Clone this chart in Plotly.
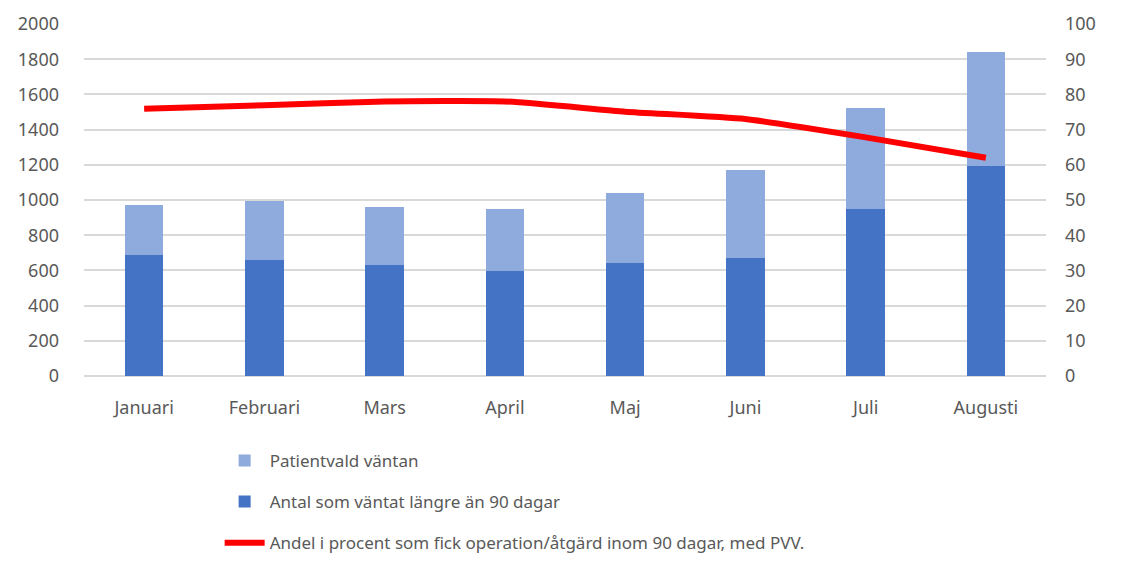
import plotly.graph_objects as go

months = ["Januari", "Februari", "Mars", "April", "Maj", "Juni", "Juli", "Augusti"]
antal_over_90 = [689, 659, 632, 598, 644, 672, 947, 1195]
patientvald = [284, 335, 326, 351, 394, 500, 574, 644]
andel_procent = [75.9, 76.9, 78.0, 78.0, 75.1, 73.0, 67.8, 62.0]

font_family = "Noto Sans"
txt_col = "#595959"

fig = go.Figure()
fig.add_trace(go.Bar(x=months, y=antal_over_90, name="Antal som väntat längre än 90 dagar",
                     marker=dict(color="#4472C4", line=dict(width=0)), legendrank=2,
                     legendgroup="b"))
fig.add_trace(go.Bar(x=months, y=patientvald, name="Patientvald väntan",
                     marker=dict(color="#8FAADC", line=dict(width=0)), legendrank=1,
                     legendgroup="a"))
fig.add_trace(go.Scatter(x=months, y=andel_procent, yaxis="y2", mode="lines",
                         name="Andel i procent som fick operation/åtgärd inom 90 dagar, med PVV.",
                         line=dict(color="#FF0000", width=6, shape="spline", smoothing=0.5),
                         legendrank=3, legendgroup="c"))

fig.update_layout(
    width=1124, height=553,
    margin=dict(l=76, r=86, t=16, b=185, autoexpand=False),
    paper_bgcolor="white", plot_bgcolor="white",
    barmode="stack", bargap=0.68,
    font=dict(family=font_family, size=18, color=txt_col),
    showlegend=True,
    legend=dict(x=0.141, y=-0.19, xanchor="left", yanchor="top",
                orientation="v", tracegroupgap=16,
                font=dict(family=font_family, size=17, color=txt_col),
                itemwidth=40, bgcolor="rgba(0,0,0,0)"),
    xaxis=dict(showgrid=False, showline=False, ticks="", ticklabelstandoff=19,
               automargin=False, tickfont=dict(size=18, color=txt_col)),
    yaxis=dict(range=[0, 2000], dtick=200, showgrid=True, gridcolor="#D9D9D9", gridwidth=1.5,
               zeroline=True, zerolinecolor="#D9D9D9", zerolinewidth=1.5, showline=False,
               automargin=False,
               ticks="", ticklabelstandoff=24, tickfont=dict(size=18, color=txt_col)),
    yaxis2=dict(range=[0, 100], dtick=10, overlaying="y", side="right", showgrid=False,
                zeroline=False, showline=False, ticks="", ticklabelstandoff=18,
                automargin=False,
                tickfont=dict(size=18, color=txt_col)),
)

fig.write_html("out.html")
